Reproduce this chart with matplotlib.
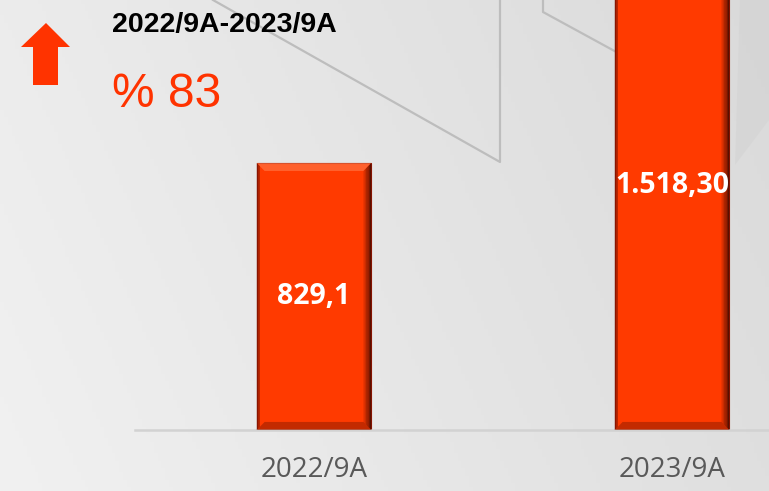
import numpy as np
import matplotlib
matplotlib.use('Agg')
import matplotlib.pyplot as plt
from matplotlib.patches import Polygon

# data
periods = ['2022/9A', '2023/9A']
values = [829.1, 1518.30]
value_labels = ['829,1', '1.518,30']
range_title = '2022/9A-2023/9A'
growth_text = '% 83'

BAR_COLOR = '#ff3a00'
W, H = 769, 491

fig = plt.figure(figsize=(W / 100, H / 100), dpi=100)

# background: soft gray gradient with faint facet lines (pixel coordinates)
bg = fig.add_axes([0, 0, 1, 1])
bg.set_xlim(0, W)
bg.set_ylim(H, 0)
bg.axis('off')
xx, yy = np.meshgrid(np.linspace(0, 1, 200), np.linspace(0, 1, 130))
shade = 0.925 - 0.07 * xx + 0.02 * yy
bg.imshow(np.dstack([shade] * 3), extent=(0, W, H, 0), aspect='auto', zorder=0)
bg.add_patch(Polygon([(740, 0), (769, 0), (769, 120), (735, 165)], closed=True,
                     fc='#cfcfcf', ec='none', alpha=0.4, zorder=1))
bg.plot([213, 500, 500], [0, 162, 0], color='#bdbdbd', lw=1.6, zorder=2)
bg.plot([543, 543, 620], [0, 12, 54], color='#bdbdbd', lw=1.6, zorder=2)

# up arrow
bg.add_patch(Polygon([(46, 23), (70, 47), (58, 47), (58, 85), (33, 85), (33, 47), (21, 47)],
                     closed=True, fc='#ff3300', ec='none', zorder=3))
bg.text(112, 25, range_title, fontsize=20.5, fontweight='bold', color='black',
        family='Liberation Sans', va='center', ha='left')
bg.text(112, 94, growth_text, fontsize=34.5, color='#ff3300',
        family='Liberation Sans', va='center', ha='left')

# chart
ax = fig.add_axes([135 / W, 61 / H, 716 / W, 430 / H])
ax.patch.set_alpha(0)
x = np.arange(len(periods))
bars = ax.bar(x, values, width=0.32, color=BAR_COLOR, edgecolor='#a01800',
              linewidth=0.8, zorder=2)
ax.set_xlim(-0.5, 1.5)
ax.set_ylim(0, 1335)

# bevel shading on each bar
bx, by = 0.022, 25
for b, lab in zip(bars, value_labels):
    x0, w, h = b.get_x(), b.get_width(), b.get_height()
    x1 = x0 + w
    ax.add_patch(Polygon([(x0, h), (x1, h), (x1 - bx, h - by), (x0 + bx, h - by)],
                         fc='#ff7a4a', ec='none', alpha=0.6, zorder=3))
    ax.add_patch(Polygon([(x0, 0), (x1, 0), (x1 - bx, by), (x0 + bx, by)],
                         fc='#9c2000', ec='none', alpha=0.6, zorder=3))
    ax.add_patch(Polygon([(x0, 0), (x0 + bx * 0.4, by * 0.4), (x0 + bx * 0.4, h - by * 0.4), (x0, h)],
                         fc='#7a1200', ec='none', alpha=0.6, zorder=3))
    steps = 6
    for i in range(steps):
        f0 = 1 - (i + 1) / steps
        ax.add_patch(Polygon([(x1 - bx * (f0 + 1 / steps), by * (f0 + 1 / steps)),
                              (x1 - bx * f0, by * f0), (x1 - bx * f0, h - by * f0),
                              (x1 - bx * (f0 + 1 / steps), h - by * (f0 + 1 / steps))],
                             fc='#1a0000', ec='none', alpha=0.12 + 0.12 * i, zorder=3))
    ax.text(x0 + w / 2, h / 2, lab, ha='center', va='center', color='white',
            fontsize=20.5, fontweight='bold', family='Open Sans', zorder=4)

for s in ['top', 'right', 'left']:
    ax.spines[s].set_visible(False)
ax.spines['bottom'].set_color('#d2d2d2')
ax.spines['bottom'].set_linewidth(1.8)
ax.set_yticks([])
ax.set_xticks(x)
ax.set_xticklabels(periods, fontsize=20, color='#595959', family='Open Sans')
ax.tick_params(axis='x', length=0, pad=19)

fig.savefig('out.png', dpi=100)
